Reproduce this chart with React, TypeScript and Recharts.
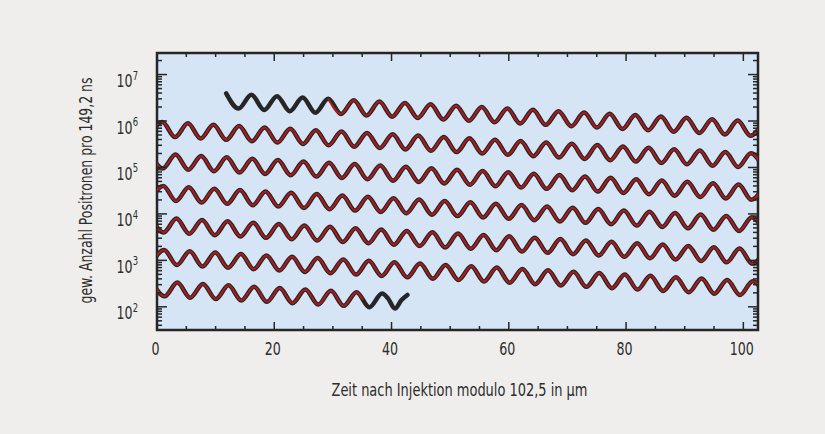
import { LineChart, Line, XAxis, YAxis, CartesianGrid, ReferenceArea } from 'recharts'

type Pt = [number, number]

const rowA: Pt[] = [
  [11.8, 3.93e6], [13.92, 1.85e6], [16.1, 3.67e6], [18.28, 1.73e6], [20.47, 3.43e6], [22.65, 1.62e6],
  [24.83, 3.21e6], [27.01, 1.51e6], [29.2, 3.0e6], [31.38, 1.42e6], [33.56, 2.8e6], [35.74, 1.32e6],
  [37.93, 2.62e6], [40.11, 1.24e6], [42.29, 2.45e6], [44.47, 1.16e6], [46.66, 2.29e6], [48.84, 1.08e6],
  [51.02, 2.14e6], [53.2, 1.01e6], [55.39, 2.0e6], [57.57, 9.44e5], [59.75, 1.87e6], [61.93, 8.82e5],
  [64.12, 1.75e6], [66.3, 8.26e5], [68.48, 1.63e6], [70.66, 7.7e5], [72.85, 1.53e6], [75.03, 7.22e5],
  [77.21, 1.43e6], [79.39, 6.75e5], [81.58, 1.34e6], [83.76, 6.3e5], [85.94, 1.25e6], [88.12, 5.89e5],
  [90.31, 1.17e6], [92.49, 5.5e5], [94.67, 1.09e6], [96.85, 5.14e5], [99.04, 1.02e6], [101.22, 4.81e5],
  [103.4, 9.53e5],
]

const rowB: Pt[] = [
  [-1.28, 4.81e5], [0.9, 9.53e5], [3.08, 4.5e5], [5.27, 8.9e5], [7.45, 4.2e5], [9.63, 8.32e5],
  [11.81, 3.93e5], [14.0, 7.78e5], [16.18, 3.67e5], [18.36, 7.27e5], [20.54, 3.43e5], [22.73, 6.8e5],
  [24.91, 3.21e5], [27.09, 6.35e5], [29.27, 3.0e5], [31.46, 5.94e5], [33.64, 2.8e5], [35.82, 5.55e5],
  [38.0, 2.62e5], [40.19, 5.19e5], [42.37, 2.45e5], [44.55, 4.85e5], [46.73, 2.29e5], [48.92, 4.53e5],
  [51.1, 2.14e5], [53.28, 4.24e5], [55.46, 2.0e5], [57.65, 3.96e5], [59.83, 1.87e5], [62.01, 3.7e5],
  [64.19, 1.75e5], [66.38, 3.46e5], [68.56, 1.63e5], [70.74, 3.24e5], [72.92, 1.53e5], [75.11, 3.03e5],
  [77.29, 1.43e5], [79.47, 2.83e5], [81.65, 1.34e5], [83.84, 2.64e5], [86.02, 1.25e5], [88.2, 2.47e5],
  [90.38, 1.17e5], [92.57, 2.31e5], [94.75, 1.09e5], [96.93, 2.16e5], [99.11, 1.02e5], [101.3, 2.02e5],
  [103.48, 9.53e4],
]

const rowC: Pt[] = [
  [-1.2, 2.02e5], [0.98, 9.53e4], [3.16, 1.89e5], [5.34, 8.9e4], [7.53, 1.76e5], [9.71, 8.32e4],
  [11.89, 1.65e5], [14.07, 7.79e4], [16.26, 1.54e5], [18.44, 7.27e4], [20.62, 1.44e5], [22.8, 6.8e4],
  [24.99, 1.35e5], [27.17, 6.36e4], [29.35, 1.26e5], [31.53, 5.95e4], [33.72, 1.18e5], [35.9, 5.55e4],
  [38.08, 1.1e5], [40.26, 5.19e4], [42.45, 1.03e5], [44.63, 4.85e4], [46.81, 9.61e4], [48.99, 4.53e4],
  [51.18, 8.98e4], [53.36, 4.24e4], [55.54, 8.4e4], [57.72, 3.96e4], [59.91, 7.85e4], [62.09, 3.7e4],
  [64.27, 7.34e4], [66.45, 3.46e4], [68.64, 6.86e4], [70.82, 3.24e4], [73.0, 6.41e4], [75.18, 3.02e4],
  [77.37, 5.99e4], [79.55, 2.83e4], [81.73, 5.6e4], [83.91, 2.64e4], [86.1, 5.24e4], [88.28, 2.47e4],
  [90.46, 4.9e4], [92.64, 2.31e4], [94.83, 4.58e4], [97.01, 2.16e4], [99.19, 4.28e4], [101.37, 2.02e4],
  [103.56, 4.0e4],
]

const rowD: Pt[] = [
  [-1.13, 2.02e4], [1.06, 4.0e4], [3.24, 1.89e4], [5.42, 3.74e4], [7.6, 1.76e4], [9.79, 3.49e4],
  [11.97, 1.65e4], [14.15, 3.26e4], [16.33, 1.54e4], [18.51, 3.05e4], [20.7, 1.44e4], [22.88, 2.85e4],
  [25.06, 1.34e4], [27.25, 2.67e4], [29.43, 1.26e4], [31.61, 2.49e4], [33.79, 1.18e4], [35.98, 2.33e4],
  [38.16, 1.1e4], [40.34, 2.18e4], [42.52, 1.03e4], [44.71, 2.04e4], [46.89, 9.61e3], [49.07, 1.9e4],
  [51.25, 8.97e3], [53.44, 1.78e4], [55.62, 8.4e3], [57.8, 1.66e4], [59.98, 7.83e3], [62.17, 1.55e4],
  [64.35, 7.34e3], [66.53, 1.45e4], [68.71, 6.84e3], [70.9, 1.36e4], [73.08, 6.42e3], [75.26, 1.27e4],
  [77.44, 5.99e3], [79.63, 1.19e4], [81.81, 5.6e3], [83.99, 1.11e4], [86.17, 5.24e3], [88.36, 1.04e4],
  [90.54, 4.89e3], [92.72, 9.69e3], [94.9, 4.57e3], [97.09, 9.06e3], [99.27, 4.28e3], [101.45, 8.47e3],
  [103.63, 4.0e3],
]

const rowE: Pt[] = [
  [-1.05, 8.47e3], [1.13, 4.0e3], [3.32, 7.92e3], [5.5, 3.74e3], [7.68, 7.4e3], [9.86, 3.49e3],
  [12.05, 6.92e3], [14.23, 3.27e3], [16.41, 6.47e3], [18.59, 3.05e3], [20.78, 6.04e3], [22.96, 2.85e3],
  [25.14, 5.65e3], [27.32, 2.67e3], [29.51, 5.28e3], [31.69, 2.49e3], [33.87, 4.94e3], [36.05, 2.33e3],
  [38.24, 4.62e3], [40.42, 2.18e3], [42.6, 4.31e3], [44.78, 2.03e3], [46.97, 4.03e3], [49.15, 1.9e3],
  [51.33, 3.77e3], [53.51, 1.78e3], [55.7, 3.52e3], [57.88, 1.66e3], [60.06, 3.29e3], [62.24, 1.55e3],
  [64.43, 3.08e3], [66.61, 1.45e3], [68.79, 2.88e3], [70.97, 1.36e3], [73.16, 2.69e3], [75.34, 1.27e3],
  [77.52, 2.51e3], [79.7, 1.19e3], [81.89, 2.35e3], [84.07, 1.11e3], [86.25, 2.2e3], [88.43, 1.04e3],
  [90.62, 2.05e3], [92.8, 969], [94.98, 1.92e3], [97.16, 906], [99.35, 1.8e3], [101.53, 847],
  [103.71, 1.68e3],
]

const rowF: Pt[] = [
  [-0.97, 847], [1.21, 1680], [3.39, 792], [5.58, 1570], [7.76, 741], [9.94, 1470],
  [12.12, 692], [14.31, 1370], [16.49, 647], [18.67, 1280], [20.85, 604], [23.04, 1200],
  [25.22, 565], [27.4, 1120], [29.58, 529], [31.77, 1050], [33.95, 494], [36.13, 978],
  [38.31, 462], [40.5, 914], [42.68, 431], [44.86, 854], [47.04, 403], [49.23, 799],
  [51.41, 377], [53.59, 747], [55.77, 353], [57.96, 698], [60.14, 329], [62.32, 652],
  [64.5, 308], [66.69, 610], [68.87, 288], [71.05, 570], [73.23, 269], [75.42, 533],
  [77.6, 252], [79.78, 498], [81.96, 235], [84.15, 466], [86.33, 220], [88.51, 435],
  [90.69, 205], [92.88, 407], [95.06, 192], [97.24, 380], [99.42, 179], [101.61, 356],
  [103.79, 168],
]

const rowG: Pt[] = [
  [-0.9, 356], [1.29, 168], [3.47, 332], [5.65, 157], [7.84, 311], [10.02, 147],
  [12.2, 290], [14.38, 137], [16.57, 271], [18.75, 128], [20.93, 254], [23.11, 120],
  [25.3, 237], [27.48, 112], [29.66, 222], [31.84, 105], [34.03, 207], [36.21, 97.7],
  [38.39, 194], [39.4, 152], [40.57, 91.5], [41.7, 140], [42.7, 180],
]

// fitted curve: starts later in row A, stops early in row G
const fitA: Pt[] = rowA.filter(([t]) => t >= 29.2)
const fitG: Pt[] = [...rowG.filter(([t]) => t <= 34.03), [35.1, 142]]

const dataRows = [rowA, rowB, rowC, rowD, rowE, rowF, rowG]
const fitRows = [fitA, rowB, rowC, rowD, rowE, rowF, fitG]

const xTicks = [0, 5, 10, 15, 20, 25, 30, 35, 40, 45, 50, 55, 60, 65, 70, 75, 80, 85, 90, 95, 100]
const xLabelled = [0, 20, 40, 60, 80, 100]
const yDecades = [10, 100, 1e3, 1e4, 1e5, 1e6, 1e7]
const yLabelled = [100, 1e3, 1e4, 1e5, 1e6, 1e7]
const yMinorSteps = [1, 2, 3, 4, 5, 6, 7, 8, 9]

const X_DOMAIN: [number, number] = [0, 102.5]
const Y_DOMAIN: [number, number] = [31.7, 2.91e7]

const PLOT_LEFT = 157
const PLOT_RIGHT = 758
const PLOT_TOP = 53
const PLOT_BOTTOM = 330

const INK = '#262626'
const TEXT = '#2d2d2d'
const FONT = "'DejaVu Sans Condensed', 'DejaVu Sans', sans-serif"
const SQUEEZE = 0.78 // the original uses a narrow condensed face

const yTicks = yDecades
  .flatMap((d) => yMinorSteps.map((m) => d * m))
  .filter((v) => v >= Y_DOMAIN[0] && v <= Y_DOMAIN[1])

const toRows = (pts: Pt[]) => pts.map(([t, n]) => ({ t, n }))

function XTick({ x, payload }: any) {
  const v = payload.value
  const major = xLabelled.includes(v)
  const len = major ? 8 : 4
  return (
    <g>
      <line x1={x} x2={x} y1={PLOT_BOTTOM} y2={PLOT_BOTTOM - len} stroke={INK} strokeWidth={1.5} />
      <line x1={x} x2={x} y1={PLOT_TOP} y2={PLOT_TOP + len} stroke={INK} strokeWidth={1.5} />
      {major && (
        <text transform={`translate(${x - 1.5} 355) scale(${SQUEEZE} 1)`} textAnchor="middle"
          fontSize={18} fill={TEXT} fontFamily={FONT}>
          {v}
        </text>
      )}
    </g>
  )
}

function YTick({ y, payload }: any) {
  const v = payload.value
  const major = yLabelled.some((d) => Math.abs(d - v) / d < 1e-6)
  const len = major ? 10 : 5
  const exp = Math.round(Math.log10(v))
  return (
    <g>
      <line x1={PLOT_LEFT} x2={PLOT_LEFT + len} y1={y} y2={y} stroke={INK} strokeWidth={1.5} />
      <line x1={PLOT_RIGHT} x2={PLOT_RIGHT - len} y1={y} y2={y} stroke={INK} strokeWidth={1.5} />
      {major && (
        <text transform={`translate(138 ${y + 12.5}) scale(${SQUEEZE} 1)`} textAnchor="end"
          fontSize={18} fill={TEXT} fontFamily={FONT}>
          10
          <tspan fontSize={12} dy={-7.5}>{exp}</tspan>
        </text>
      )}
    </g>
  )
}

function YTitle({ viewBox }: any) {
  const cx = viewBox.x - 12
  const cy = viewBox.y + viewBox.height / 2 - 1
  return (
    <text x={cx} y={cy} transform={`rotate(-90 ${cx} ${cy})`} textAnchor="middle" dominantBaseline="central"
      fontSize={18} fill={TEXT} fontFamily={FONT} textLength={226} lengthAdjust="spacingAndGlyphs">
      gew. Anzahl Positronen pro 149,2 ns
    </text>
  )
}

function XTitle({ viewBox }: any) {
  return (
    <text x={viewBox.x + viewBox.width / 2 + 2} y={viewBox.y + 66} textAnchor="middle"
      fontSize={18} fill={TEXT} fontFamily={FONT} textLength={256} lengthAdjust="spacingAndGlyphs">
      Zeit nach Injektion modulo 102,5 in µm
    </text>
  )
}

export default function App() {
  return (
    <div style={{ position: 'absolute', left: 0, top: 0, width: 825, height: 434, background: '#efeeec' }}>
      <LineChart width={825} height={434} margin={{ top: PLOT_TOP, right: 825 - PLOT_RIGHT, bottom: 74, left: 97 }}>
        <CartesianGrid horizontal={false} vertical={false} fill="#d5e5f6" />
        <XAxis dataKey="t" type="number" domain={X_DOMAIN} allowDataOverflow ticks={xTicks} interval={0}
          height={30} axisLine={false} tickLine={false} tickSize={0} tick={<XTick />} label={<XTitle />} />
        <YAxis type="number" scale="log" domain={Y_DOMAIN} allowDataOverflow ticks={yTicks} interval={0}
          width={60} axisLine={false} tickLine={false} tickSize={0} tick={<YTick />} label={<YTitle />} />
        {dataRows.map((pts, i) => (
          <Line key={`d${i}`} data={toRows(pts)} dataKey="n" type="monotone" stroke={INK} strokeWidth={4.5}
            strokeLinejoin="round" strokeLinecap="round" dot={false} activeDot={false} isAnimationActive={false} />
        ))}
        {fitRows.map((pts, i) => (
          <Line key={`f${i}`} data={toRows(pts)} dataKey="n" type="monotone" stroke="#b01a1c" strokeWidth={2}
            dot={false} activeDot={false} isAnimationActive={false} />
        ))}
        <ReferenceArea x1={X_DOMAIN[0]} x2={X_DOMAIN[1]} y1={Y_DOMAIN[0]} y2={Y_DOMAIN[1]} fill="none"
          fillOpacity={0} stroke={INK} strokeWidth={2.5} />
      </LineChart>
    </div>
  )
}
